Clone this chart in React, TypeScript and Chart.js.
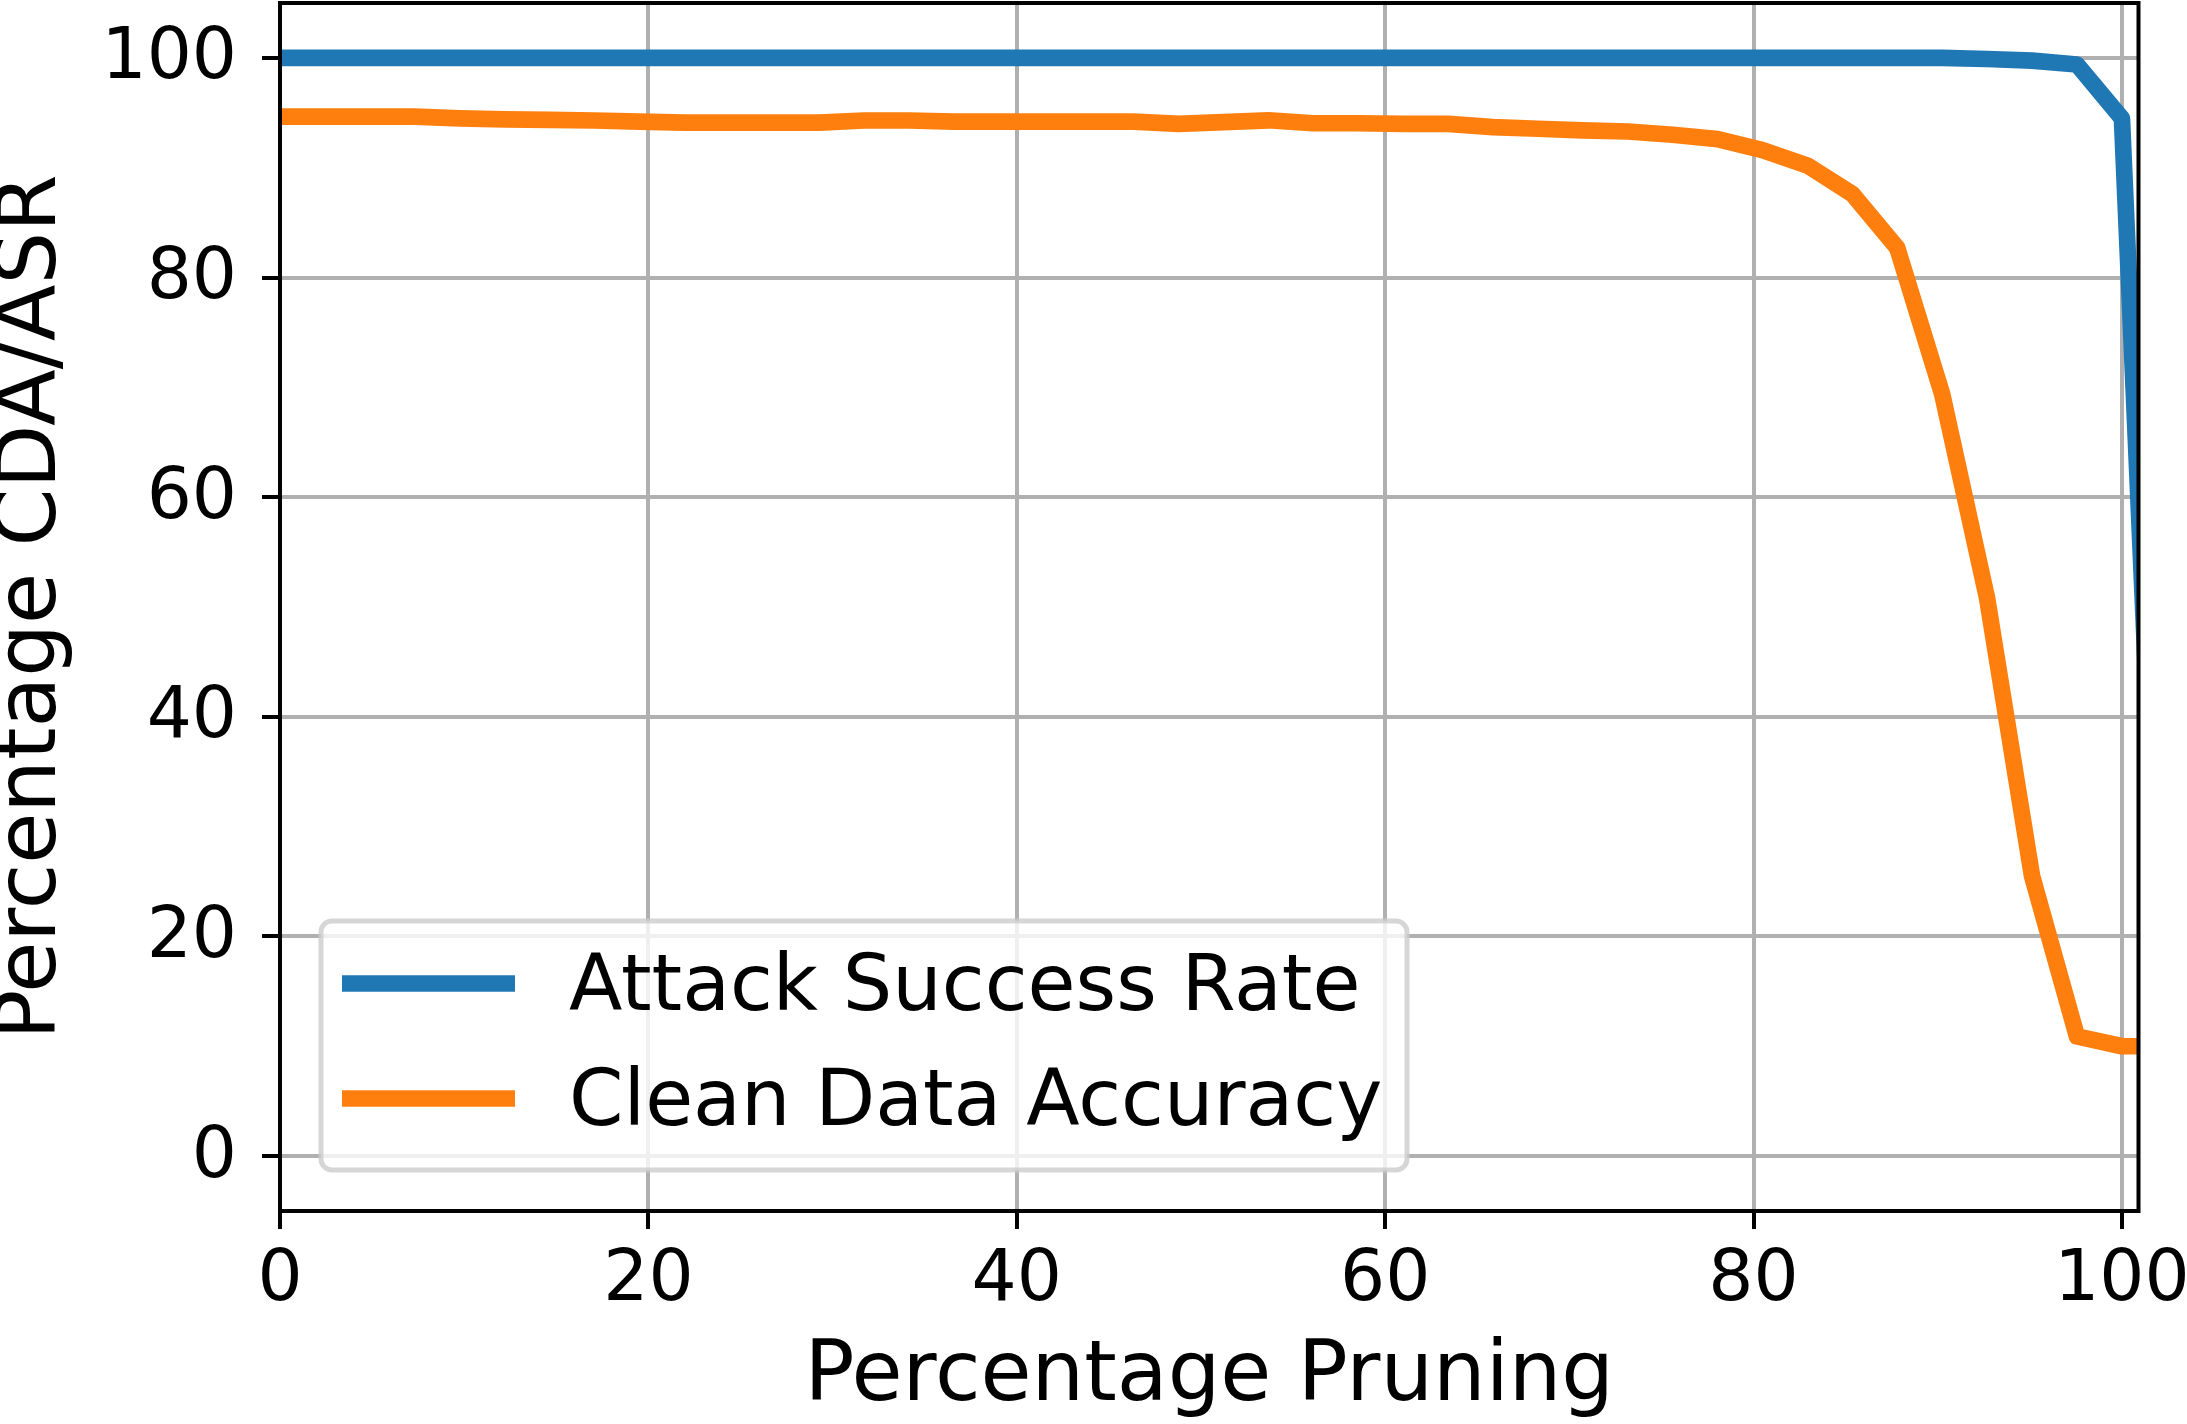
import React, { useEffect, useRef } from "react";
import { Chart, registerables } from "chart.js";

Chart.register(...registerables);

// ---- data ----
const pruningPct = [
  0, 2.44, 4.88, 7.32, 9.76, 12.2, 14.63, 17.07, 19.51, 21.95, 24.39, 26.83, 29.27, 31.71,
  34.15, 36.59, 39.02, 41.46, 43.9, 46.34, 48.78, 51.22, 53.66, 56.1, 58.54, 60.98, 63.41,
  65.85, 68.29, 70.73, 73.17, 75.61, 78.05, 80.49, 82.93, 85.37, 87.8, 90.24, 92.68, 95.12,
  97.56, 100, 102.44,
];
const attackSuccessRate = [
  100, 100, 100, 100, 100, 100, 100, 100, 100, 100, 100, 100, 100, 100, 100, 100, 100, 100,
  100, 100, 100, 100, 100, 100, 100, 100, 100, 100, 100, 100, 100, 100, 100, 100, 100, 100,
  100, 100, 99.9, 99.75, 99.4, 94.5, 0,
];
const cleanDataAccuracy = [
  94.65, 94.65, 94.65, 94.65, 94.5, 94.4, 94.35, 94.3, 94.2, 94.1, 94.1, 94.1, 94.1, 94.3,
  94.3, 94.2, 94.2, 94.2, 94.2, 94.2, 94.0, 94.15, 94.32, 94.05, 94.05, 94.0, 94.0, 93.7,
  93.55, 93.4, 93.3, 93.0, 92.6, 91.6, 90.2, 87.6, 82.7, 69.4, 50.8, 25.5, 10.9, 10.0, 10.0,
];
const seriesLabels = ["Attack Success Rate", "Clean Data Accuracy"];
const seriesColors = ["#1f77b4", "#ff7f0e"];
const xTicks = [0, 20, 40, 60, 80, 100];
const yTicks = [0, 20, 40, 60, 80, 100];
const xTitle = "Percentage Pruning";
const yTitle = "Percentage CDA/ASR";

const FONT = "'DejaVu Sans', 'Liberation Sans', sans-serif";
const W = 2187;
const H = 1424;

const framePlugin = {
  id: "mplFrame",
  afterDatasetsDraw(chart: any) {
    const { ctx, chartArea: a } = chart;
    ctx.save();
    // spines
    ctx.strokeStyle = "#000";
    ctx.lineWidth = 4;
    ctx.lineJoin = "miter";
    ctx.strokeRect(a.left, a.top, a.right - a.left, a.bottom - a.top);

    // legend (lower left)
    const lx = a.left + 41;
    const ly = a.bottom - 290;
    const lw = 1086;
    const lh = 249;
    ctx.beginPath();
    (ctx as any).roundRect(lx, ly, lw, lh, 11);
    ctx.fillStyle = "rgba(255,255,255,0.8)";
    ctx.fill();
    ctx.lineWidth = 5;
    ctx.strokeStyle = "rgba(204,204,204,0.8)";
    ctx.stroke();

    const ds = chart.data.datasets;
    ctx.font = `78px ${FONT}`;
    ctx.textBaseline = "alphabetic";
    ctx.textAlign = "left";
    for (let i = 0; i < ds.length; i++) {
      const cy = ly + 62.5 + i * 115;
      ctx.beginPath();
      ctx.lineCap = "butt";
      ctx.lineWidth = 16.7;
      ctx.strokeStyle = ds[i].borderColor;
      ctx.moveTo(lx + 21, cy);
      ctx.lineTo(lx + 194, cy);
      ctx.stroke();
      ctx.fillStyle = "#000";
      ctx.fillText(ds[i].label, lx + 248, cy + 26.5);
    }
    ctx.restore();
  },
};

export default function App() {
  const ref = useRef<HTMLCanvasElement | null>(null);

  useEffect(() => {
    if (!ref.current) return;
    const mk = (ys: number[]) => pruningPct.map((x, i) => ({ x, y: ys[i] }));
    const chart = new Chart(ref.current, {
      type: "line",
      data: {
        datasets: [
          {
            label: seriesLabels[0],
            data: mk(attackSuccessRate),
            borderColor: seriesColors[0],
            backgroundColor: seriesColors[0],
            borderWidth: 16.7,
            pointRadius: 0,
            tension: 0,
            fill: false,
            borderJoinStyle: "round",
            borderCapStyle: "butt",
            clip: 0,
            order: 1,
          },
          {
            label: seriesLabels[1],
            data: mk(cleanDataAccuracy),
            borderColor: seriesColors[1],
            backgroundColor: seriesColors[1],
            borderWidth: 16.7,
            pointRadius: 0,
            tension: 0,
            fill: false,
            borderJoinStyle: "round",
            borderCapStyle: "butt",
            clip: 0,
            order: 0,
          },
        ],
      },
      options: {
        animation: false,
        responsive: false,
        devicePixelRatio: 1,
        events: [],
        layout: { padding: { top: 3, right: 48.5, bottom: 0, left: 0 } },
        plugins: { legend: { display: false }, tooltip: { enabled: false } },
        scales: {
          x: {
            type: "linear",
            min: 0,
            max: 100.9,
            afterBuildTicks: (s: any) => {
              s.ticks = xTicks.map((v) => ({ value: v }));
            },
            afterFit: (s: any) => {
              s.height = 213;
              s.paddingLeft = 0;
              s.paddingRight = 0;
            },
            ticks: {
              color: "#000",
              font: { family: FONT, size: 71, lineHeight: 1.2 },
              padding: 10,
              maxRotation: 0,
              autoSkip: false,
            },
            grid: {
              color: "#b0b0b0",
              lineWidth: 4,
              tickColor: "#000",
              tickWidth: 4,
              tickLength: 18,
            },
            border: { display: false },
            title: {
              display: true,
              text: xTitle,
              color: "#000",
              font: { family: FONT, size: 83, lineHeight: 0.8 },
              padding: { top: 0, bottom: 12.5 },
            },
          },
          y: {
            type: "linear",
            min: -5,
            max: 105,
            afterBuildTicks: (s: any) => {
              s.ticks = yTicks.map((v) => ({ value: v }));
            },
            afterFit: (s: any) => {
              s.width = 280;
              s.paddingTop = 0;
              s.paddingBottom = 0;
            },
            ticks: {
              color: "#000",
              font: { family: FONT, size: 71, lineHeight: 1.2 },
              padding: 25,
              labelOffset: 2,
              autoSkip: false,
            },
            grid: {
              color: "#b0b0b0",
              lineWidth: 4,
              tickColor: "#000",
              tickWidth: 4,
              tickLength: 18,
            },
            border: { display: false },
            title: {
              display: true,
              text: yTitle,
              color: "#000",
              font: { family: FONT, size: 83, lineHeight: 0.8 },
              padding: { top: 0, bottom: 0 },
            },
          },
        },
      },
      plugins: [framePlugin],
    } as any);
    return () => chart.destroy();
  }, []);

  return (
    <div
      style={{
        position: "fixed",
        left: 0,
        top: 0,
        width: W,
        height: H,
        background: "#fff",
      }}
    >
      <canvas ref={ref} width={W} height={H} style={{ width: W, height: H, display: "block" }} />
    </div>
  );
}
